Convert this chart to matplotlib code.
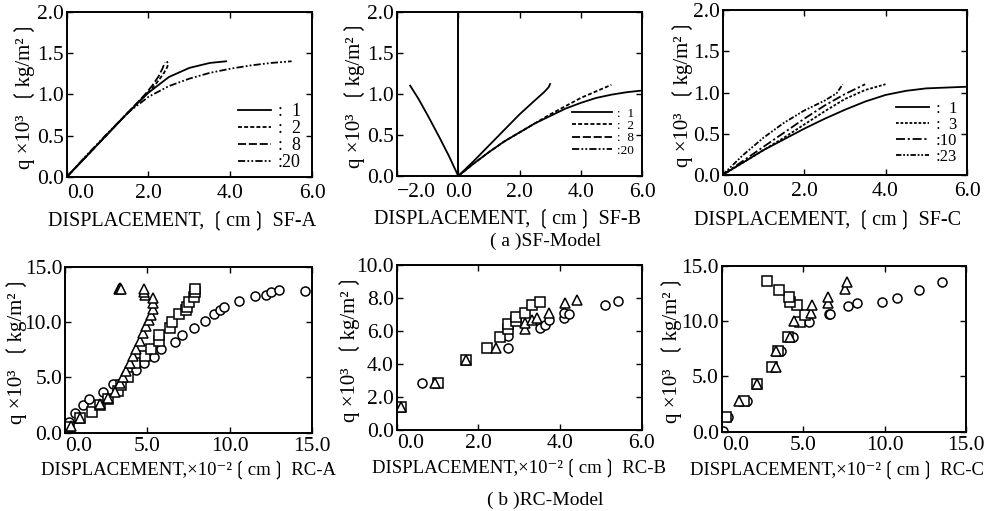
import matplotlib
matplotlib.use("Agg")
import matplotlib.pyplot as plt
from matplotlib.lines import Line2D
from matplotlib.ticker import FuncFormatter

FAM = ['Liberation Serif', 'DejaVu Sans', 'Noto Sans CJK JP']
plt.rcParams['font.family'] = FAM

# ---------------- data: SF-A ----------------
sfa_x1 = [0, 0.5, 1.0, 1.5, 2.0, 2.5, 3.0, 3.5, 3.9]
sfa_y1 = [0, 0.26, 0.52, 0.78, 1.02, 1.21, 1.32, 1.38, 1.40]
sfa_x2 = [0, 0.5, 1.0, 1.5, 1.9, 2.1, 2.25, 2.38, 2.46, 2.48, 2.45]
sfa_y2 = [0, 0.26, 0.52, 0.78, 0.98, 1.08, 1.17, 1.26, 1.33, 1.37, 1.40]
sfa_x8 = [0, 0.5, 1.0, 1.5, 1.9, 2.1, 2.25, 2.35, 2.40]
sfa_y8 = [0, 0.26, 0.52, 0.78, 0.99, 1.11, 1.22, 1.32, 1.39]
sfa_x20 = [0, 0.5, 1.0, 1.5, 2.0, 2.5, 3.0, 3.5, 4.0, 4.5, 5.0, 5.5]
sfa_y20 = [0, 0.27, 0.53, 0.78, 0.97, 1.10, 1.19, 1.26, 1.31, 1.35, 1.38, 1.40]

# ---------------- data: SF-B ----------------
sfb_x1 = [0, 0.5, 1.0, 1.5, 2.0, 2.5, 3.0, 3.5, 4.0, 4.5, 5.0, 5.5, 6.0]
sfb_y1 = [0, 0.15, 0.29, 0.42, 0.53, 0.64, 0.73, 0.82, 0.89, 0.95, 0.99, 1.02, 1.04]
sfb_x2 = [0, 0.5, 1.0, 1.5, 2.0, 2.5, 3.0, 3.5, 4.0, 4.5, 5.0]
sfb_y2 = [0, 0.15, 0.29, 0.42, 0.53, 0.64, 0.75, 0.85, 0.95, 1.03, 1.11]
sfb_x8 = [0, 0.5, 1.0, 1.5, 2.0, 2.5, 2.8, 2.95, 3.0]
sfb_y8 = [0, 0.18, 0.37, 0.56, 0.75, 0.92, 1.02, 1.08, 1.12]
sfb_x20 = [-1.57, -1.3, -1.0, -0.6, -0.3, -0.1, 0]
sfb_y20 = [1.10, 0.94, 0.74, 0.46, 0.24, 0.08, 0]

# ---------------- data: SF-C ----------------
sfc_x1 = [0, 0.5, 1.0, 1.5, 2.0, 2.5, 3.0, 3.5, 4.0, 4.5, 5.0, 5.5, 6.0]
sfc_y1 = [0, 0.15, 0.30, 0.43, 0.56, 0.68, 0.79, 0.89, 0.97, 1.02, 1.05, 1.06, 1.07]
sfc_x3 = [0, 0.5, 1.0, 1.5, 2.0, 2.5, 3.0, 3.5, 4.0]
sfc_y3 = [0, 0.15, 0.30, 0.45, 0.61, 0.77, 0.92, 1.03, 1.10]
sfc_x10 = [0, 0.5, 1.0, 1.5, 2.0, 2.5, 3.0, 3.5]
sfc_y10 = [0, 0.17, 0.34, 0.51, 0.68, 0.84, 0.98, 1.10]
sfc_x23 = [0, 0.5, 1.0, 1.5, 2.0, 2.5, 2.8, 2.95]
sfc_y23 = [0, 0.24, 0.45, 0.63, 0.78, 0.90, 0.99, 1.10]

# ---------------- data: RC-A ----------------
rca_tri_x = [0.34, 0.94, 2.13, 2.63, 3.03, 3.33, 3.53, 3.73, 3.93, 4.13, 4.33, 4.53, 4.73,
             4.93, 5.09, 5.23, 5.33, 5.37, 5.33, 4.85, 4.80, 4.77, 3.25, 3.35, 3.43]
rca_tri_y = [0.6, 1.3, 2.6, 3.1, 3.7, 4.46, 5.06, 5.6, 6.26, 6.93, 7.53, 8.28, 8.98,
             9.64, 10.18, 10.63, 11.14, 11.69, 12.14, 12.44, 12.7, 12.95, 13.0, 13.05, 12.95]
rca_sq_x = [0.24, 0.94, 1.64, 2.13, 2.63, 3.23, 3.43, 3.83, 4.23, 4.83, 5.23, 5.69, 5.73,
            6.36, 6.52, 6.92, 7.32, 7.42, 7.52, 7.82, 7.92, 7.92]
rca_sq_y = [0.54, 1.3, 1.84, 2.5, 3.04, 3.8, 4.3, 5.06, 6.26, 6.93, 7.53, 8.28, 8.83,
            9.49, 10.0, 10.7, 11.1, 11.4, 11.8, 12.3, 12.7, 13.0]
rca_ci_x = [0.24, 0.58, 1.10, 1.44, 2.33, 2.93, 4.33, 4.77, 5.43, 5.86, 6.66, 7.12, 7.82,
            8.48, 9.02, 9.42, 9.68, 10.57, 11.51, 12.2, 12.51, 12.97, 14.6]
rca_ci_y = [1.0, 1.8, 2.5, 3.04, 3.7, 4.37, 5.66, 6.33, 6.87, 7.53, 8.16, 8.83, 9.43,
            10.09, 10.69, 11.08, 11.33, 11.93, 12.35, 12.44, 12.74, 12.89, 12.83]

# ---------------- data: RC-B ----------------
rcb_sq_x = [0.1, 1.01, 1.70, 2.21, 2.52, 2.72, 2.72, 2.93, 2.93, 3.13, 3.32, 3.52]
rcb_sq_y = [1.41, 2.83, 4.24, 4.95, 5.66, 6.12, 6.42, 6.63, 6.87, 7.11, 7.58, 7.78]
rcb_tri_x = [0.1, 0.95, 1.70, 2.43, 3.13, 3.13, 3.32, 3.44, 3.72, 4.13, 4.41]
rcb_tri_y = [1.41, 2.83, 4.24, 4.95, 6.12, 6.46, 6.67, 6.77, 7.07, 7.68, 7.88]
rcb_ci_x = [0.63, 2.72, 2.72, 3.52, 3.62, 3.72, 4.10, 4.10, 4.21, 5.11, 5.41]
rcb_ci_y = [2.83, 4.95, 5.70, 6.16, 6.36, 6.67, 6.77, 7.11, 7.03, 7.58, 7.82]

# ---------------- data: RC-C ----------------
rcc_sq_x = [0.27, 1.39, 2.15, 3.07, 3.48, 4.09, 4.81, 5.11, 4.60, 4.19, 4.15, 3.54, 2.76]
rcc_sq_y = [1.36, 2.8, 4.28, 5.81, 7.26, 8.52, 9.94, 10.54, 11.45, 11.69, 12.2, 12.8, 13.58]
rcc_tri_x = [1.08, 2.19, 3.33, 3.33, 4.19, 4.44, 5.46, 5.56, 6.54, 6.54, 7.57, 7.67]
rcc_tri_y = [2.8, 4.28, 5.81, 7.26, 8.52, 10.0, 10.69, 11.45, 11.6, 12.2, 12.9, 13.55]
rcc_ci_x = [0.05, 0.41, 1.53, 3.17, 3.62, 4.36, 5.38, 6.58, 6.65, 7.73, 8.28, 9.86, 10.74, 12.13, 13.54]
rcc_ci_y = [0.05, 1.36, 2.8, 5.81, 7.26, 8.52, 9.94, 10.6, 10.6, 11.36, 11.66, 11.69, 12.1, 12.8, 13.5]

# ticks / labels
sf_xticks = [0, 2, 4, 6]
sfb_xticks = [-2, 0, 2, 4, 6]
sf_yticks = [0, 0.5, 1.0, 1.5, 2.0]
rc15_ticks = [0, 5, 10, 15]
rcb_xticks = [0, 2, 4, 6]
rcb_yticks = [0, 2, 4, 6, 8, 10]
ylabel_txt = "q ×10³  \u2772kg/m²\u2773"
sf_xlabels = ["DISPLACEMENT, \u2772cm\u2773 SF-A", "DISPLACEMENT, \u2772cm\u2773 SF-B",
              "DISPLACEMENT, \u2772cm\u2773 SF-C"]
rc_xlabels = ["DISPLACEMENT,×10⁻²\u2772cm\u2773 RC-A", "DISPLACEMENT,×10⁻²\u2772cm\u2773 RC-B",
              "DISPLACEMENT,×10⁻²\u2772cm\u2773 RC-C"]
sfa_legend = [":  1", ":  2", ":  8", ":20"]
sfc_legend = [":  1", ":  3", ":10", ":23"]

W, H = 985, 511
fig = plt.figure(figsize=(W / 100, H / 100), dpi=100)

def box(l, r, t, b):
    return [l / W, (H - b) / H, (r - l) / W, (b - t) / H]

fmt = FuncFormatter(lambda v, p: f"{v:.1f}".replace('-', '\u2212'))

def style(ax, xlim, ylim, xt, yt, xlabel, xl_pos, yl_x, tickpad, xl_size):
    ax.set_xlim(*xlim)
    ax.set_ylim(*ylim)
    ax.set_xticks(xt)
    ax.set_yticks(yt)
    ax.xaxis.set_major_formatter(fmt)
    ax.yaxis.set_major_formatter(fmt)
    ax.tick_params(direction='in', top=True, right=True, length=4, width=1.0,
                   labelsize=15.5, pad=tickpad)
    ax.tick_params(axis='y', pad=2)
    for s in ax.spines.values():
        s.set_linewidth(1.4)
    ax.set_xlabel(xlabel, fontsize=xl_size, family=FAM)
    ax.xaxis.set_label_coords(*xl_pos)
    ax.xaxis.label.set_va('center')
    ax.set_ylabel(ylabel_txt, fontsize=15, family=FAM)
    ax.yaxis.set_label_coords(yl_x, 0.5)
    ax.yaxis.label.set_va('center')
    fig.canvas.draw()
    labs = ax.get_xticklabels()
    if xt[0] == xlim[0]:
        labs[0].set_ha('left')

LW = 1.3
ls1 = '-'
ls2 = (0, (2.2, 1.2))
ls8 = (0, (4.5, 1.5))
ls20 = (0, (4.0, 1.2, 1.0, 1.2, 1.0, 1.2))
ls3 = (0, (1.5, 1.0))
ls10 = (0, (5.0, 1.5, 1.2, 1.5))
ls23 = (0, (3.0, 1.0, 1.0, 1.0, 1.0, 1.0))

# ---------- SF-A ----------
ax = fig.add_axes(box(66.7, 312, 11.7, 177))
ax.plot(sfa_x1, sfa_y1, color='k', lw=LW, ls=ls1)
ax.plot(sfa_x2, sfa_y2, color='k', lw=LW, ls=ls2)
ax.plot(sfa_x8, sfa_y8, color='k', lw=LW, ls=ls8)
ax.plot(sfa_x20, sfa_y20, color='k', lw=LW, ls=ls20)
style(ax, (0, 6), (0, 2), sf_xticks, sf_yticks, sf_xlabels[0], (0.47, -0.265), -0.17, 5, 14.5)
h = [Line2D([], [], color='k', lw=LW, ls=s) for s in (ls1, ls2, ls8, ls20)]
ax.legend(h, sfa_legend, loc='lower right', bbox_to_anchor=(1.0, -0.03), frameon=False,
          fontsize=13, handlelength=1.8, handletextpad=0.4, labelspacing=0.0,
          borderaxespad=0.2)

# ---------- SF-B ----------
ax = fig.add_axes(box(397, 642, 11.7, 176))
ax.axvline(0, color='k', lw=1.4)
ax.plot(sfb_x20, sfb_y20, color='k', lw=LW, ls='-')
ax.plot(sfb_x8, sfb_y8, color='k', lw=LW, ls='-')
ax.plot(sfb_x1, sfb_y1, color='k', lw=LW, ls=ls1)
ax.plot(sfb_x2, sfb_y2, color='k', lw=LW, ls=ls2)
style(ax, (-2, 6), (0, 2), sfb_xticks, sf_yticks, sf_xlabels[1], (0.45, -0.265), -0.171, 5, 14.5)
ax.legend(h, sfa_legend, loc='lower right', bbox_to_anchor=(1.0, 0.07), frameon=False,
          fontsize=9.5, handlelength=3.0, handletextpad=0.4, labelspacing=0.0,
          borderaxespad=0.2)

# ---------- SF-C ----------
ax = fig.add_axes(box(722.5, 967, 10, 175))
ax.plot(sfc_x1, sfc_y1, color='k', lw=LW, ls=ls1)
ax.plot(sfc_x3, sfc_y3, color='k', lw=LW, ls=ls3)
ax.plot(sfc_x10, sfc_y10, color='k', lw=LW, ls=ls10)
ax.plot(sfc_x23, sfc_y23, color='k', lw=LW, ls=ls23)
style(ax, (0, 6), (0, 2), sf_xticks, sf_yticks, sf_xlabels[2], (0.43, -0.275), -0.16, 5, 14.5)
hc = [Line2D([], [], color='k', lw=LW, ls=s) for s in (ls1, ls3, ls10, ls23)]
ax.legend(hc, sfc_legend, loc='lower right', bbox_to_anchor=(1.0, 0.0), frameon=False,
          fontsize=12, handlelength=2.0, handletextpad=0.4, labelspacing=0.0,
          borderaxespad=0.2)

mk = dict(mfc='white', mec='k', mew=1.1, ls='none', ms=6.5)

# ---------- RC-A ----------
ax = fig.add_axes(box(65, 312, 266.7, 432.7))
ax.plot(rca_ci_x, rca_ci_y, marker='o', **mk)
ax.plot(rca_sq_x, rca_sq_y, marker='s', **mk)
ax.plot(rca_tri_x, rca_tri_y, marker='^', **mk)
style(ax, (0, 15), (0, 15), rc15_ticks, rc15_ticks, rc_xlabels[0], (0.50, -0.225), -0.194, 3, 13.5)

# ---------- RC-B ----------
ax = fig.add_axes(box(396.7, 641.7, 265, 430))
ax.plot(rcb_ci_x, rcb_ci_y, marker='o', **mk)
ax.plot(rcb_sq_x, rcb_sq_y, marker='s', **mk)
ax.plot(rcb_tri_x, rcb_tri_y, marker='^', **mk)
style(ax, (0, 6), (0, 10), rcb_xticks, rcb_yticks, rc_xlabels[1], (0.50, -0.235), -0.19, 3, 13.5)

# ---------- RC-C ----------
ax = fig.add_axes(box(721.7, 966, 265.7, 431.7))
ax.plot(rcc_ci_x, rcc_ci_y, marker='o', **mk)
ax.plot(rcc_sq_x, rcc_sq_y, marker='s', **mk)
ax.plot(rcc_tri_x, rcc_tri_y, marker='^', **mk)
style(ax, (0, 15), (0, 15), rc15_ticks, rc15_ticks, rc_xlabels[2], (0.47, -0.235), -0.2, 3, 13.5)

fig.text(545 / W, 1 - 241 / H, "( a )SF-Model", ha='center', va='center', fontsize=14)
fig.text(545 / W, 1 - 500 / H, "( b )RC-Model", ha='center', va='center', fontsize=14)

fig.savefig("out.png", dpi=100)
